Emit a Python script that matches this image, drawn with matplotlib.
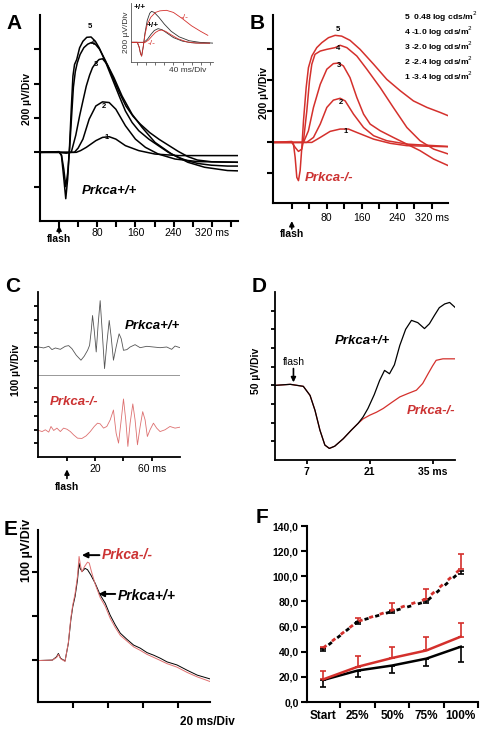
"""
ERG figure: Prkca+/+ vs Prkca-/- (panels A-F)
"""

import matplotlib
matplotlib.use('Agg')
import matplotlib.pyplot as plt

plt.rcParams['font.family'] = ['Liberation Sans', 'DejaVu Sans']

RED = '#d4302c'
TXT_RED = '#cc3333'

# ---------------- data ----------------
# A: wild-type flash series (ms, uV)
a5_t = [-40, 0, 5, 10, 14, 18, 22, 25.5, 29, 32.4, 37, 43, 50, 58, 67, 76, 84, 98, 112, 126, 139, 153, 167, 188, 208, 229, 250, 270, 291, 319, 353, 375]
a5_v = [0, 4, -19, -155, -270, -155, 39, 251, 444, 512, 541, 609, 647, 670, 672, 647, 609, 522, 425, 328, 241, 174, 126, 77, 39, 0, -29, -50, -65, -75, -80, -80]
a4_t = [-40, 0, 5, 10, 14, 18, 22, 26, 30, 34, 38, 44, 52, 60, 68, 76, 85, 98, 112, 126, 140, 155, 170, 190, 210, 230, 250, 270, 290, 320, 375]
a4_v = [0, 2, -15, -100, -200, -120, 20, 200, 380, 470, 520, 570, 610, 630, 640, 630, 600, 530, 440, 350, 270, 210, 165, 115, 75, 40, 5, -25, -45, -55, -58]
a3_t = [-40, 0, 15, 25.5, 35, 43, 50, 57, 64, 70, 78, 84, 91, 101, 115, 132, 153, 174, 201, 236, 270, 305, 353, 375]
a3_v = [0, 0, -5, 0, 100, 212, 300, 386, 450, 493, 525, 541, 545, 512, 435, 328, 222, 145, 58, -10, -58, -87, -106, -108]
a2_t = [-40, 0, 32, 40, 50, 63, 77, 91, 105, 119, 139, 160, 181, 208, 243, 291, 375]
a2_v = [0, 0, 0, 25, 77, 193, 270, 294, 290, 251, 155, 77, 29, -10, -39, -54, -58]
a1_t = [-40, 0, 36, 45, 57, 77, 91, 105, 119, 139, 167, 201, 250, 375]
a1_v = [0, 0, 0, 10, 29, 68, 87, 91, 77, 39, 10, -10, -19, -19]

# A inset: strongest and weak flash, both genotypes
in_wt_hi_t = [-28, 0, 8, 14, 19, 26, 34, 44, 55, 63, 75, 95, 120, 150, 185, 230, 276, 335]
in_wt_hi_v = [0, 0, -60, -140, -175, -60, 120, 280, 370, 394, 380, 320, 230, 140, 70, 20, 0, -10]
in_ko_hi_t = [-28, 0, 8, 14, 19, 26, 34, 44, 60, 80, 100, 129, 160, 200, 240, 280, 312]
in_ko_hi_v = [0, 0, -60, -140, -175, -60, 100, 230, 320, 380, 400, 407, 380, 300, 210, 140, 89]
in_wt_lo_t = [-28, 0, 30, 45, 60, 75, 92, 110, 130, 160, 200, 240, 280, 320]
in_wt_lo_v = [0, 0, 0, 40, 100, 150, 174, 160, 120, 60, 15, -5, -10, -10]
in_ko_lo_t = [-28, 0, 35, 50, 65, 80, 95, 107, 125, 150, 180, 220, 260, 320]
in_ko_lo_v = [0, 0, 0, 30, 80, 125, 150, 156, 140, 95, 45, 5, -10, -10]

# B: knockout flash series
b5_t = [-42, 0, 3.8, 7.6, 11.4, 15.2, 19, 22.9, 26.7, 32.8, 38, 45.7, 57, 68.6, 83.8, 99, 114, 133, 156, 187, 217, 248, 278, 309, 339, 358]
b5_v = [0, 6, -11, -96, -225, -246, -182, -32, 139, 353, 481, 556, 610, 642, 674, 689, 684, 657, 599, 503, 406, 332, 267, 225, 193, 171]
b4_t = [-42, 0, 7.6, 15.2, 22.9, 26.7, 34.3, 40.4, 45.7, 53, 65, 80, 99, 110.5, 125.7, 148.6, 171.5, 202, 232, 263, 293, 324, 358]
b4_v = [0, 0, -32, -58, -43, 11, 203, 396, 503, 567, 588, 599, 610, 625, 610, 556, 471, 353, 225, 96, 11, -43, -75]
b3_t = [-42, 0, 26.7, 38, 49.5, 65, 80, 95, 107, 118, 133, 148.6, 164, 179, 202, 232, 263, 293, 324, 358]
b3_v = [0, 0, 0, 75, 225, 374, 471, 507, 511, 492, 417, 289, 182, 118, 75, 32, -11, -53, -107, -150]
b2_t = [-42, 0, 34, 49.5, 65, 80, 95, 110.5, 122, 141, 164, 187, 217, 263, 358]
b2_v = [0, 0, 0, 32, 118, 225, 272, 284, 267, 182, 96, 43, 11, -11, -26]
b1_t = [-42, 0, 45.7, 65, 87.6, 110.5, 129.5, 148.6, 187, 225, 263, 358]
b1_v = [0, 0, 0, 32, 71, 86, 86, 64, 21, -6, -21, -28]
b_legend = ['5  0.48 log cds/m$^2$', '4 -1.0 log cds/m$^2$', '3 -2.0 log cds/m$^2$',
            '2 -2.4 log cds/m$^2$', '1 -3.4 log cds/m$^2$']

# C: oscillatory potentials (offset +200 / -400 uV)
c_wt_t = [-20, -16.5, -12.9, -10.6, -8.2, -4.7, -1.2, 1.2, 3.5, 6.6, 9.9, 12.2, 14.6, 16.0, 17.2, 18.1, 19.3, 20.7, 22.1, 23.5, 24.9, 26.6, 28.2, 29.9, 31.3, 32.9, 34.8, 36.9, 38.4, 40.0, 42.4, 44.7, 48.2, 51.8, 56.5, 61.2, 65.9, 70.6, 74.1, 76.5, 80]
c_wt_v = [200, 193, 205, 181, 193, 183, 205, 210, 188, 140, 104, 133, 176, 212, 321, 429, 321, 164, 369, 537, 321, 43, 224, 393, 272, 104, 200, 296, 260, 176, 181, 200, 217, 195, 205, 200, 195, 200, 183, 207, 195]
c_ko_t = [-20, -17.6, -15.3, -12.9, -11.3, -9.4, -7.1, -4.7, -2.4, 0, 2.4, 4.7, 7.5, 10.6, 13.6, 16.5, 19.3, 21.6, 23.5, 25.9, 28.2, 30.6, 32.9, 34.8, 36.5, 38.4, 40.0, 41.6, 43.1, 44.7, 46.6, 48.2, 49.9, 51.8, 53.6, 55.3, 56.9, 58.8, 61.2, 63.5, 65.9, 69.4, 72.9, 76.5, 80]
c_ko_v = [-407, -415, -402, -419, -378, -407, -390, -415, -390, -398, -415, -439, -463, -465, -446, -415, -378, -354, -359, -390, -378, -330, -258, -427, -499, -330, -178, -330, -523, -354, -214, -330, -511, -378, -270, -330, -451, -402, -354, -390, -415, -402, -378, -390, -383]

# D: a-wave leading edge
d_wt_t = [0, 3.3, 6.2, 7.7, 8.8, 9.9, 11.0, 12.0, 13.2, 15.1, 16.9, 18.4, 19.5, 20.6, 22, 23.2, 24.3, 25.4, 26.5, 27.7, 29, 30.3, 31.7, 33.2, 34.3, 35.4, 36.5, 37.7, 38.8, 40]
d_wt_v = [0, 2.7, -2.7, -27, -67, -120, -160, -169, -163, -143, -120, -102, -85, -62, -25, 13, 40, 31, 55, 107, 150, 174, 168, 152, 165, 187, 208, 218, 222, 209]
d_ko_t = [0, 3.3, 6.2, 7.7, 8.8, 9.9, 11.0, 12.0, 13.2, 15.1, 16.9, 18.4, 19.5, 21, 22.5, 24, 26, 27.7, 29.5, 31.4, 32.8, 34, 35, 35.8, 37.3, 40]
d_ko_v = [0, 2.7, -2.7, -27, -67, -120, -160, -169, -163, -143, -120, -102, -90, -80, -72, -62, -45, -31, -22, -13, 5, 31, 52, 67, 71, 71]

# E: rod-isolated response
e_wt_t = [0, 8.2, 10.6, 11.6, 12.9, 15.4, 17.3, 18.7, 19.8, 21.1, 22.5, 23.4, 24.0, 25.1, 26.8, 28.2, 30.1, 32.6, 35.4, 38.3, 41.1, 44.0, 46.9, 50.7, 54.5, 58.3, 62.1, 66.0, 69.8, 73.5, 79.2, 85, 90.7, 98.3]
e_wt_v = [-1, 0, 7.6, 15, 4, -2, 38, 91, 121, 144, 182, 220, 208, 201, 208, 205, 193, 174, 148, 129, 102, 80, 61, 47, 34, 27, 17, 11, 4, -4, -11, -23, -34, -43]
e_ko_t = [0, 8.2, 10.6, 11.6, 12.9, 15.4, 17.3, 18.7, 19.8, 21.1, 22.5, 23.4, 24.2, 25, 26.5, 28.2, 29.2, 30.5, 32.6, 35.4, 38.3, 41.1, 44, 46.9, 50.7, 54.5, 58.3, 62.1, 66, 69.8, 73.5, 79.2, 85, 90.7, 98.3]
e_ko_v = [-1, 0, 6, 13, 3, -3, 40, 95, 125, 150, 190, 235, 215, 200, 212, 222, 220, 200, 172, 142, 122, 95, 74, 56, 43, 30, 22, 13, 6, -1, -8, -16, -28, -38, -49]

# F: amplitudes vs stimulus step
f_cats = ['Start', '25%', '50%', '75%', '100%']
f_ko_dash = [43, 64, 73, 82, 106]
f_ko_dash_err = [1, 2.5, 6, 8, 12]
f_wt_dash = [42, 64, 72, 80, 104]
f_wt_dash_err = [1.5, 2, 1.5, 1.5, 2.5]
f_ko_solid = [18, 28, 35, 41, 52]
f_ko_solid_err = [7, 8.5, 9, 10.5, 11]
f_wt_solid = [17.5, 25, 29, 34.5, 44]
f_wt_solid_err = [5.5, 5, 6, 6, 12.5]

# ---------------- helpers ----------------
W, H = 481, 736


def add_axes(fig, left, top, right, bottom):
    """axes from pixel box"""
    return fig.add_axes([left / W, 1 - bottom / H, (right - left) / W, (bottom - top) / H])


def style(ax, lw=1.5, tl=4):
    for s in ['top', 'right']:
        ax.spines[s].set_visible(False)
    for s in ['left', 'bottom']:
        ax.spines[s].set_linewidth(lw)
    ax.tick_params(direction='out', length=tl, width=lw, labelsize=7.5, pad=2)


def flash(ax, x, y0, y1, ty, fs=7.5):
    tr = ax.get_xaxis_transform()
    ax.annotate('', xy=(x, y1), xytext=(x, y0), xycoords=tr, textcoords=tr,
                arrowprops=dict(arrowstyle='-|>', color='black', lw=1.2,
                                mutation_scale=7, shrinkA=0, shrinkB=0),
                annotation_clip=False)
    ax.text(x, ty, 'flash', transform=tr, ha='center', va='top',
            fontsize=fs, fontweight='bold', clip_on=False)


fig = plt.figure(figsize=(W / 100, H / 100), dpi=100)

# ---------------- A ----------------
ax = add_axes(fig, 40, 15, 238, 221)
style(ax)
for t, v in [(a1_t, a1_v), (a2_t, a2_v), (a3_t, a3_v), (a4_t, a4_v), (a5_t, a5_v)]:
    ax.plot(t, v, color='black', lw=1.1)
ax.set_xlim(-40, 375)
ax.set_ylim(-400, 800)
ax.set_yticks([-200, 0, 200, 400, 600])
ax.set_yticklabels([])
ax.set_xticks(range(0, 361, 40))
ax.set_xticklabels(['', '', '80', '', '160', '', '240', '', '320 ms', ''])
ax.tick_params(axis='x', pad=1)
for lab, x, y in [('5', 65, 711), ('4', 72, 615), ('3', 77, 490), ('2', 93, 248), ('1', 99, 66)]:
    ax.text(x, y, lab, fontsize=5.5, fontweight='bold', ha='center', va='bottom')
ax.text(48, -225, 'Prkca+/+', fontsize=9.5, fontweight='bold', style='italic', va='center')
ax.set_ylabel('200 µV/Div', fontsize=7.5, fontweight='bold')
ax.yaxis.set_label_coords(-0.04, 0.59)
flash(ax, 0, -0.058, -0.022, -0.063)
fig.text(6 / W, 1 - 14 / H, 'A', fontsize=15, fontweight='bold', va='top')

# inset
ax = add_axes(fig, 131, 3, 213, 62)
for s in ['top', 'right']:
    ax.spines[s].set_visible(False)
for s in ['left', 'bottom']:
    ax.spines[s].set_linewidth(0.6)
ax.spines['left'].set_color('#555555')
ax.spines['bottom'].set_color('#555555')
ax.plot(in_wt_hi_t, in_wt_hi_v, color='#333333', lw=0.6)
ax.plot(in_wt_lo_t, in_wt_lo_v, color='#333333', lw=0.6)
ax.plot(in_ko_hi_t, in_ko_hi_v, color=RED, lw=0.6)
ax.plot(in_ko_lo_t, in_ko_lo_v, color=RED, lw=0.6)
ax.set_xlim(-28, 335)
ax.set_ylim(-250, 500)
ax.set_xticks(range(0, 330, 40))
ax.set_yticks([])
ax.set_xticklabels([])
ax.tick_params(axis='x', direction='out', length=2, width=0.6, color='#555555')
ax.set_ylabel('200 µV/Div', fontsize=6, labelpad=1, color='#333333')
ax.text(0.92, -0.08, '40 ms/Div', transform=ax.transAxes, fontsize=6, ha='right', va='top', color='#333333')
ax.text(-18, 420, '+/+', fontsize=6, fontweight='bold')
ax.text(40, 195, '+/+', fontsize=6, fontweight='bold')
ax.text(190, 300, '-/-', fontsize=6, color=RED)
ax.text(45, -30, '-/-', fontsize=6, color=RED)

# ---------------- B ----------------
ax = add_axes(fig, 273, 15, 448, 203)
style(ax)
for t, v in [(b1_t, b1_v), (b2_t, b2_v), (b3_t, b3_v), (b4_t, b4_v), (b5_t, b5_v)]:
    ax.plot(t, v, color=RED, lw=1.1)
ax.set_xlim(-43, 357)
ax.set_ylim(-390, 820)
ax.set_yticks([-200, 0, 200, 400, 600])
ax.set_yticklabels([])
ax.set_xticks(range(0, 321, 40))
ax.set_xticklabels(['', '', '80', '', '160', '', '240', '', '320 ms'])
ax.tick_params(axis='x', pad=3)
for lab, x, y in [('5', 106, 706), ('4', 106, 585), ('3', 107, 475), ('2', 113, 232), ('1', 124, 45)]:
    ax.text(x, y, lab, fontsize=5.5, fontweight='bold', ha='center', va='bottom')
ax.text(30, -230, 'Prkca-/-', fontsize=9.5, fontweight='bold', style='italic', color=TXT_RED, va='center')
ax.set_ylabel('200 µV/Div', fontsize=7.5, fontweight='bold')
ax.yaxis.set_label_coords(-0.025, 0.585)
flash(ax, 0, -0.138, -0.096, -0.14)
for i, s in enumerate(b_legend):
    ax.text(0.75, 0.99 - i * 0.08, s, transform=ax.transAxes, fontsize=6.1,
            fontweight='bold', va='center', clip_on=False,
            family=['Liberation Sans Narrow', 'Liberation Sans'])
fig.text(250 / W, 1 - 14 / H, 'B', fontsize=15, fontweight='bold', va='top')

# ---------------- C ----------------
ax = add_axes(fig, 38, 292, 180, 457)
style(ax, lw=1.3, tl=3)
ax.axhline(0, color='#888888', lw=0.6)
ax.plot(c_wt_t, c_wt_v, color='#555555', lw=0.6)
ax.plot(c_ko_t, c_ko_v, color='#dd7070', lw=0.6)
ax.set_xlim(-20.5, 80)
ax.set_ylim(-600, 600)
ax.set_yticks([-500, -400, -300, -200, -100, 100, 200, 300, 400, 500])
ax.set_yticklabels([])
ax.set_xticks([0, 20, 40, 60])
ax.set_xticklabels(['', '20', '', '60 ms'])
ax.text(80, 355, 'Prkca+/+', fontsize=9.5, fontweight='bold', style='italic', ha='right', va='center')
ax.text(-12, -200, 'Prkca-/-', fontsize=9.5, fontweight='bold', style='italic', color=TXT_RED, va='center')
ax.set_ylabel('100 µV/Div', fontsize=7.5, fontweight='bold')
ax.yaxis.set_label_coords(-0.12, 0.527)
flash(ax, 0, -0.13, -0.075, -0.15)
fig.text(5 / W, 1 - 277 / H, 'C', fontsize=15, fontweight='bold', va='top')

# ---------------- D ----------------
ax = add_axes(fig, 275.5, 292, 455, 460)
style(ax, lw=1.3, tl=3)
ax.plot(d_ko_t, d_ko_v, color=RED, lw=0.9)
ax.plot(d_wt_t, d_wt_v, color='black', lw=0.9)
ax.set_xlim(0, 40)
ax.set_ylim(-200, 250)
ax.set_yticks([-150, -100, -50, 0, 50, 100, 150, 200])
ax.set_yticklabels([])
ax.set_xticks([7, 21, 35])
ax.set_xticklabels(['7', '21', '35 ms'], fontweight='bold')
ax.text(25.5, 120, 'Prkca+/+', fontsize=9.5, fontweight='bold', style='italic', ha='right', va='center')
ax.text(40, -70, 'Prkca-/-', fontsize=9.5, fontweight='bold', style='italic', color=TXT_RED, ha='right', va='center')
ax.annotate('', xy=(4, 8), xytext=(4, 45),
            arrowprops=dict(arrowstyle='-|>', color='black', lw=1.2, mutation_scale=7, shrinkA=0, shrinkB=0))
ax.text(4, 50, 'flash', fontsize=7.5, ha='center', va='bottom')
ax.set_ylabel('50 µV/Div', fontsize=7.5, fontweight='bold')
ax.yaxis.set_label_coords(-0.08, 0.53)
fig.text(252 / W, 1 - 277 / H, 'D', fontsize=15, fontweight='bold', va='top')

# ---------------- E ----------------
ax = add_axes(fig, 38, 530, 210, 702)
style(ax, lw=1.5, tl=4)
ax.plot(e_wt_t, e_wt_v, color='black', lw=0.7)
ax.plot(e_ko_t, e_ko_v, color='#e07070', lw=0.7)
ax.set_xlim(0, 98)
ax.set_ylim(-95, 295)
ax.set_yticks([0, 100, 200])
ax.set_yticklabels([])
ax.set_xticks([20, 40, 60, 80])
ax.set_xticklabels([])
ax.text(0.985, -0.116, '20 ms/Div', transform=ax.transAxes, fontsize=8.5, fontweight='bold', ha='center', va='center')
ax.set_ylabel('100 µV/Div', fontsize=9, fontweight='bold')
ax.yaxis.set_label_coords(-0.03, 0.884)
ax.annotate('', xy=(25, 238), xytext=(35, 238),
            arrowprops=dict(arrowstyle='-|>', color='black', lw=1.4, mutation_scale=8, shrinkA=0, shrinkB=0))
ax.text(36.5, 238, 'Prkca-/-', fontsize=10, fontweight='bold', style='italic', color=TXT_RED, va='center')
ax.annotate('', xy=(34.5, 150), xytext=(44, 150),
            arrowprops=dict(arrowstyle='-|>', color='black', lw=1.4, mutation_scale=8, shrinkA=0, shrinkB=0))
ax.text(45.5, 146, 'Prkca+/+', fontsize=10, fontweight='bold', style='italic', va='center')
fig.text(4 / W, 1 - 520 / H, 'E', fontsize=15, fontweight='bold', va='top')

# ---------------- F ----------------
ax = add_axes(fig, 307, 526, 478, 702)
style(ax, lw=1.5, tl=4)
x = range(len(f_cats))
zeros = [0] * len(f_cats)
ax.errorbar(x, f_ko_dash, yerr=[zeros, f_ko_dash_err], color=RED, lw=2, ls=(0, (1.5, 2.5)),
            capsize=2.5, elinewidth=1.2, capthick=1.2)
ax.errorbar(x, f_wt_dash, yerr=[f_wt_dash_err, zeros], color='black', lw=2, ls=(1.5, (1.5, 2.5)),
            capsize=2.5, elinewidth=1.2, capthick=1.2)
ax.errorbar(x, f_wt_solid, yerr=[f_wt_solid_err, zeros], color='black', lw=1.8,
            capsize=2.5, elinewidth=1.2, capthick=1.2)
ax.errorbar(x, f_ko_solid, yerr=[zeros, f_ko_solid_err], color=RED, lw=1.8,
            capsize=2.5, elinewidth=1.2, capthick=1.2)
ax.set_xlim(-0.47, 4.48)
ax.set_ylim(0, 140)
ax.set_yticks(range(0, 141, 20))
ax.set_yticklabels(['%d,0' % v for v in range(0, 141, 20)], fontweight='bold', fontsize=7.5)
ax.set_xticks([0.5, 1.5, 2.5, 3.5, 4.5])
ax.set_xticklabels([])
ax.set_xticks(list(x), minor=True)
ax.set_xticklabels(f_cats, minor=True, fontweight='bold', fontsize=8.5)
ax.tick_params(axis='x', which='minor', length=0, pad=6)
fig.text(256 / W, 1 - 508 / H, 'F', fontsize=15, fontweight='bold', va='top')

fig.savefig('out.png', dpi=100)
